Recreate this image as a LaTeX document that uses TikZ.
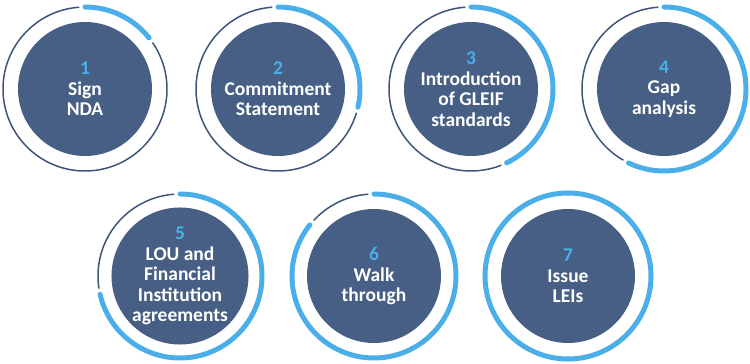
\documentclass[tikz,border=0pt]{standalone}
\usepackage{fontspec}
\setmainfont{Carlito}
\usepackage{xcolor}
\definecolor{stepdisk}{HTML}{475F84}
\definecolor{stepring}{HTML}{3F5479}
\definecolor{stepblue}{HTML}{4AAFE9}
\usepackage{tikz}
\begin{document}
\begin{tikzpicture}[x=1pt, y=1pt,
  disk/.style={circle, fill=stepdisk, minimum size=134pt, inner sep=0pt,
    align=center, text=white, font=\fontsize{19.5}{20.5}\selectfont\bfseries},
  thinring/.style={stepring, line width=1.5pt},
  progress/.style={stepblue, line width=5pt, line cap=round}
]
\useasboundingbox (0,0) rectangle (750,364);
% top row
\node[disk] (s1) at (85,275)  {\textcolor{stepblue}{1}\\Sign\\NDA};
\node[disk] (s2) at (278,275) {\textcolor{stepblue}{2}\\Commitment\\Statement};
\node[disk] (s3) at (471,275) {\textcolor{stepblue}{3}\\Introduction\\of GLEIF\\standards};
\node[disk] (s4) at (664,275) {\textcolor{stepblue}{4}\\Gap\\analysis};
% bottom row
\node[disk] (s5) at (180,88)  {\textcolor{stepblue}{5}\\LOU and\\Financial\\Institution\\agreements};
\node[disk] (s6) at (374,88)  {\textcolor{stepblue}{6}\\Walk\\through};
\node[disk] (s7) at (568,88)  {\textcolor{stepblue}{7}\\Issue\\LEIs};
% rings: k sevenths of a turn done
\foreach \n in {1,...,6} {
  \draw[thinring] (s\n.center) ++(94:82)
    arc[start angle=94, end angle={446-\n*360/7}, radius=82];
  \draw[progress] (s\n.center) ++(90:82)
    arc[start angle=90, end angle={90-\n*360/7}, radius=82];
}
\draw[progress] (s7.center) circle[radius=83];
\end{tikzpicture}
\end{document}
